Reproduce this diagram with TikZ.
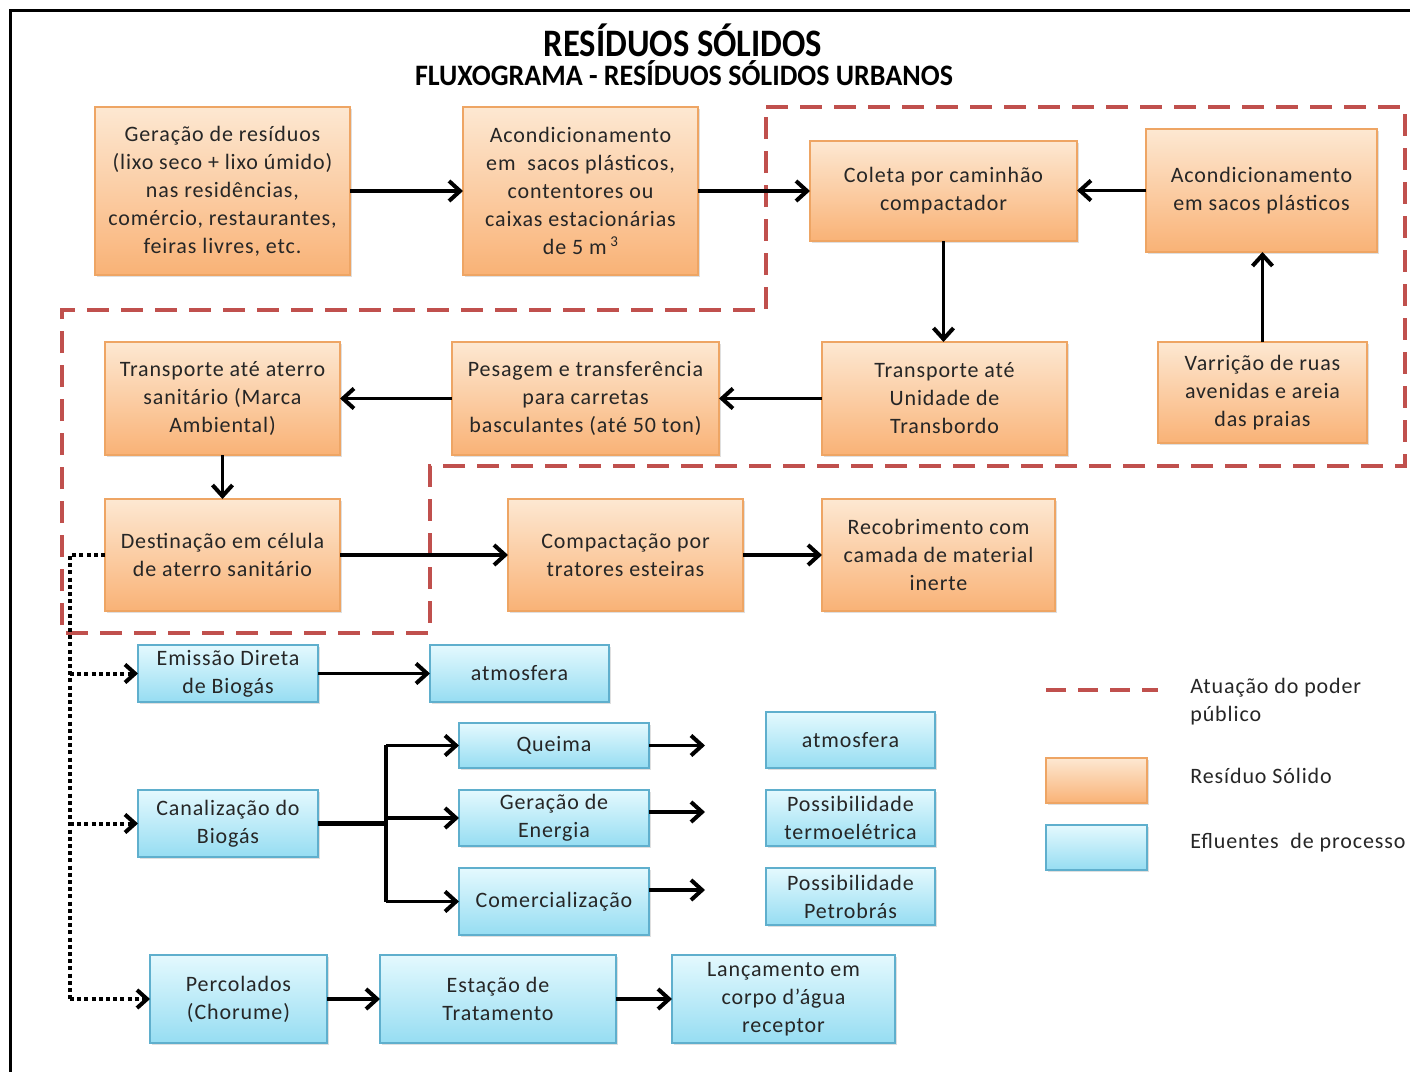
\documentclass[tikz,border=0pt]{standalone}
\usepackage{fontspec}
\setmainfont{Carlito}
\newfontfamily\boxfont[LetterSpace=4]{Carlito}
\usetikzlibrary{arrows.meta,shadows}
\definecolor{otop}{RGB}{253,232,210}
\definecolor{obot}{RGB}{249,178,118}
\definecolor{obord}{RGB}{238,165,100}
\definecolor{btop}{RGB}{228,249,254}
\definecolor{bbot}{RGB}{150,221,242}
\definecolor{bbord}{RGB}{95,175,205}
\definecolor{pubred}{RGB}{192,80,77}
\tikzset{
  boxbase/.style={rectangle, align=center, inner sep=2pt, outer sep=0pt, line width=0.6pt,
    font=\boxfont\fontsize{11}{14}\selectfont, text=black!85,
    drop shadow={opacity=0.25, shadow xshift=1pt, shadow yshift=-1.2pt}},
  obox/.style={boxbase, draw=obord, top color=otop, bottom color=obot},
  bbox/.style={boxbase, draw=bbord, top color=btop, bottom color=bbot},
  arr/.style={line width=1.9pt, -{Straight Barb[length=5.5pt,width=10pt,line width=2pt]}},
  dotarr/.style={line width=2pt, dash pattern=on 2pt off 1.6pt, -{Straight Barb[length=5pt,width=9pt,line width=2pt]}},
  dotline/.style={line width=2pt, dash pattern=on 2pt off 1.6pt},
  pubdash/.style={draw=pubred, line width=2pt, dash pattern=on 11pt off 6pt},
  legtext/.style={anchor=west, inner sep=0pt, font=\boxfont\fontsize{11}{14}\selectfont, text=black!85}
}
% \bx{style}{name}{x1}{y1}{x2}{y2}{text}
\newcommand\bx[7]{\node[#1, minimum width={(#5-#3)*0.5pt}, minimum height={(#6-#4)*0.5pt}] (#2) at ({(#3+#5)/2},{(#4+#6)/2}) {#7};}
\newcommand\cubo{\raisebox{0.75ex}{\fontsize{7.5}{8}\selectfont 3}}
\begin{document}
\begin{tikzpicture}[x=0.5pt,y=-0.5pt]
\useasboundingbox (0,0) rectangle (1410,1072);
\fill[white] (0,0) rectangle (1410,1072);
% frame
\draw[line width=1.5pt] (10,1072) -- (10,10) -- (1410,10);
% titles
\node[font=\bfseries\fontsize{18}{20}\selectfont, inner sep=0pt] (t1) at (683,40) {\scalebox{0.96}[1.08]{RESÍDUOS SÓLIDOS}};
\node[font=\bfseries\fontsize{14}{16}\selectfont, inner sep=0pt] (t2) at (684,73) {\scalebox{1}[1.06]{FLUXOGRAMA - RESÍDUOS SÓLIDOS URBANOS}};
% public action region
\draw[pubdash] (766,107) -- (1405,107) -- (1405,466) -- (430,466) -- (430,633) -- (62,633) -- (62,310) -- (766,310) -- cycle;
% orange boxes
\bx{obox}{ger}{95}{107}{350}{275}{Geração de resíduos\\(lixo seco + lixo úmido)\\nas residências,\\comércio, restaurantes,\\feiras livres, etc.}
\bx{obox}{acd}{463}{107}{698}{275}{Acondicionamento\\em~ sacos plásticos,\\contentores ou\\caixas estacionárias\\de 5 m\,\cubo}
\bx{obox}{col}{810}{141}{1077}{241}{Coleta por caminhão\\compactador}
\bx{obox}{sac}{1146}{129}{1377}{252}{Acondicionamento\\em sacos plásticos}
\bx{obox}{tat}{105}{342}{340}{455}{Transporte até aterro\\sanitário (Marca\\Ambiental)}
\bx{obox}{pes}{452}{342}{719}{455}{Pesagem e transferência\\para carretas\\basculantes (até 50 ton)}
\bx{obox}{tun}{822}{342}{1067}{455}{Transporte até\\Unidade de\\Transbordo}
\bx{obox}{var}{1158}{342}{1367}{443}{Varrição de ruas\\avenidas e areia\\das praias}
\bx{obox}{des}{105}{499}{340}{611}{Destinação em célula\\de aterro sanitário}
\bx{obox}{cmp}{508}{499}{743}{611}{Compactação por\\tratores esteiras}
\bx{obox}{rec}{822}{499}{1055}{611}{Recobrimento com\\camada de material\\inerte}
% blue boxes
\bx{bbox}{emi}{138}{645}{318}{702}{Emissão Direta\\de Biogás}
\bx{bbox}{atm}{430}{645}{609}{702}{atmosfera}
\bx{bbox}{que}{459}{723}{649}{768}{Queima}
\bx{bbox}{atm2}{766}{712}{935}{768}{atmosfera}
\bx{bbox}{can}{138}{790}{318}{857}{Canalização do\\Biogás}
\bx{bbox}{ene}{459}{790}{649}{846}{Geração de\\Energia}
\bx{bbox}{ter}{766}{790}{935}{846}{Possibilidade\\termoelétrica}
\bx{bbox}{com}{459}{868}{649}{935}{Comercialização}
\bx{bbox}{pet}{766}{868}{935}{925}{Possibilidade\\Petrobrás}
\bx{bbox}{per}{150}{955}{327}{1043}{Percolados\\(Chorume)}
\bx{bbox}{est}{380}{955}{616}{1043}{Estação de\\Tratamento}
\bx{bbox}{lan}{672}{955}{895}{1043}{Lançamento em\\corpo d’água\\receptor}
% legend
\coordinate (lg1) at (1046,690);
\coordinate (lg2) at (1158,690);
\draw[draw=pubred, line width=2pt, dash pattern=on 10pt off 6pt] (lg1) -- (lg2);
\bx{obox}{lgo}{1046}{758}{1147}{803}{}
\bx{bbox}{lgb}{1046}{825}{1147}{870}{}
\node[legtext, align=left] (lt1) at (1190,702) {Atuação do poder\\público};
\node[legtext] (lt2) at (1190,776) {Resíduo Sólido};
\node[legtext] (lt3) at (1190,843) {Efluentes~ de processo};
% arrows
\draw[arr] (ger.east) -- (acd.west);
\draw[arr] (acd.east) -- (col.west);
\draw[arr] (sac.west) -- (sac.west -| col.east);
\draw[arr] (var.north) -- (var.north |- sac.south);
\draw[arr] (col.south) -- (col.south |- tun.north);
\draw[arr] (tun.west) -- (pes.east);
\draw[arr] (pes.west) -- (tat.east);
\draw[arr] (tat.south) -- (des.north);
\draw[arr] (des.east) -- (cmp.west);
\draw[arr] (cmp.east) -- (rec.west);
\draw[arr] (emi.east) -- (atm.west);
\coordinate (br) at (386,823.5);
\draw[line width=2.6pt] (can.east) -- (br);
\draw[line width=1.9pt] (386,744.6) -- (386,902.4);
\draw[arr] (386,745.5) -- (que.west);
\draw[arr] (br |- ene.west) -- (ene.west);
\draw[arr] (386,901.5) -- (com.west);
\coordinate (qe) at (705,745.5);
\coordinate (ee) at (705,812);
\coordinate (ce) at (705,890);
\draw[arr] (que.east) -- (qe);
\draw[arr] (ene.east |- ee) -- (ee);
\draw[arr] (com.east |- ce) -- (ce);
\draw[arr] (per.east) -- (est.west);
\draw[arr] (est.east) -- (lan.west);
% dotted
\coordinate (d0) at (70,555);
\coordinate (d3) at (70,999);
\draw[dotline] (des.west) -- (d0) -- (d3);
\draw[dotarr] (d0 |- emi.west) -- (emi.west);
\draw[dotarr] (d0 |- can.west) -- (can.west);
\draw[dotarr] (d3) -- (per.west);
\end{tikzpicture}
\end{document}
